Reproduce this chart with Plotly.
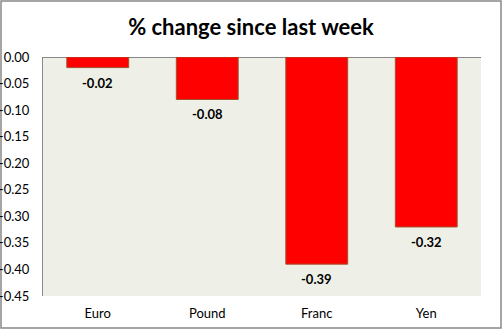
import plotly.graph_objects as go

categories = ["Euro", "Pound", "Franc", "Yen"]
values = [-0.02, -0.08, -0.39, -0.32]
tick_vals = [0.0, -0.05, -0.10, -0.15, -0.20, -0.25, -0.30, -0.35, -0.40, -0.45]
tick_text = ["0.00", "-0.05", "-0.10", "-0.15", "-0.20", "-0.25", "-0.30", "-0.35", "-0.40", "-0.45"]

W, H = 502, 329
ML, MR, MT, MB = 43, 21, 57, 33
PW, PH = W - ML - MR, H - MT - MB

fig = go.Figure()
fig.add_trace(go.Bar(
    x=categories, y=values,
    marker=dict(color="#FF0000", line=dict(color="#A0522D", width=1)),
    width=0.565,
))

for c, v in zip(categories, values):
    fig.add_annotation(x=c, y=v, text=f"<b>{v:.2f}</b>", showarrow=False,
                       yanchor="top", yshift=-5,
                       font=dict(size=13, color="#000000", family="Lato"))

fig.add_shape(type="rect", xref="paper", yref="paper",
              x0=-(ML - 1) / PW, x1=1 + (MR - 1) / PW,
              y0=-(MB - 1) / PH, y1=1 + (MT - 1) / PH,
              line=dict(color="#888888", width=1.5), layer="below")

fig.update_layout(
    width=W, height=H,
    margin=dict(l=ML, r=MR, t=MT, b=MB, autoexpand=False),
    paper_bgcolor="#FFFFFF", plot_bgcolor="#EEF0E7",
    showlegend=False,
    title=dict(text="<b>% change since last week</b>", x=0.5, xanchor="center",
               y=1 - 27 / H, yanchor="middle",
               font=dict(size=22, color="#000000", family="Lato")),
    font=dict(family="Lato", size=13, color="#000000"),
    bargap=0.435,
)
fig.update_xaxes(showgrid=False, showline=False, ticks="", ticklabelstandoff=8,
                 automargin=False, tickfont=dict(size=13, family="Lato"))
fig.update_yaxes(range=[-0.45, 0], tickvals=tick_vals, ticktext=tick_text,
                 showgrid=False, showline=True, linecolor="#888888", linewidth=1,
                 zeroline=True, zerolinecolor="#888888", zerolinewidth=1,
                 ticks="", ticklabelstandoff=10, automargin=False,
                 tickfont=dict(size=13, family="Lato"))

fig.write_html("out.html")
